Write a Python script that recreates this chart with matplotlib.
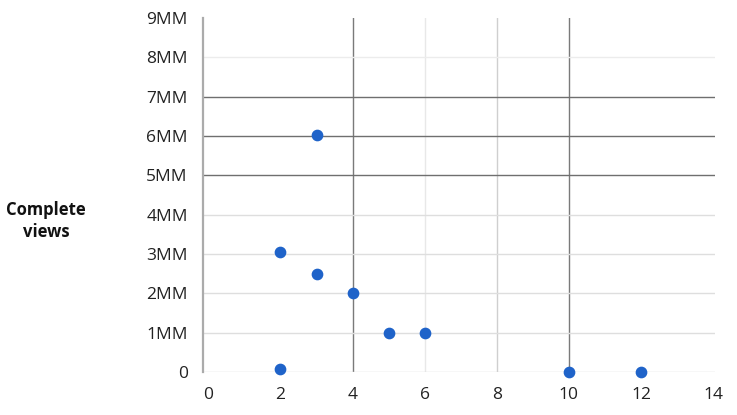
import matplotlib
matplotlib.use("Agg")
import matplotlib.pyplot as plt
from matplotlib.ticker import FuncFormatter

##- Data -##
weeks = [2, 3, 3, 4, 5, 6, 2, 10, 12]
views = [3.05e6, 2.5e6, 6.02e6, 2.0e6, 1.0e6, 1.0e6, 0.07e6, 0.0, 0.0]

x_ticks = [0, 2, 4, 6, 8, 10, 12, 14]
y_ticks = [0, 1e6, 2e6, 3e6, 4e6, 5e6, 6e6, 7e6, 8e6, 9e6]
y_label = "Complete\nviews"

# gridline colours as in the reference (None = no line)
vgrid = {4: "#7a7a7a", 6: "#e8e8e8", 8: "#cfcfcf", 10: "#7a7a7a"}
hgrid = {0: "#d9d9d9", 1e6: "#dedede", 2e6: "#dedede", 3e6: "#dedede", 4e6: "#dedede",
         5e6: "#6f6f6f", 6e6: "#6f6f6f", 7e6: "#6f6f6f", 8e6: "#ececec"}

plt.rcParams['font.family'] = ['Open Sans', 'DejaVu Sans']

fig = plt.figure(figsize=(7.37, 4.15), dpi=100)
ax = fig.add_axes([0.2754, 0.1036, 0.6946, 0.853])

for xv, c in vgrid.items():
    ax.axvline(xv, color=c, lw=1, zorder=1)
for yv, c in hgrid.items():
    ax.axhline(yv, color=c, lw=1, zorder=1)

ax.scatter(weeks, views, s=55, color="#1f63c9", zorder=3, clip_on=False)

ax.set_xlim(-0.15, 14.05)
ax.set_ylim(0, 9e6)
ax.set_xticks(x_ticks)
ax.set_yticks(y_ticks)
ax.yaxis.set_major_formatter(FuncFormatter(lambda v, p: "0" if v == 0 else "%dMM" % round(v / 1e6)))

for s in ["top", "right", "bottom"]:
    ax.spines[s].set_visible(False)
ax.spines["left"].set_color("#ababab")
ax.spines["left"].set_linewidth(1.6)
ax.tick_params(length=0, labelsize=12.5, colors="#222222")
ax.tick_params(axis="y", pad=11)
ax.tick_params(axis="x", pad=11)

fig.text(46 / 737, 1 - 221 / 415, y_label, ha="center", va="center",
         fontsize=12, fontweight="bold", color="#111111", linespacing=1.25)

fig.savefig("out.png", dpi=100)
